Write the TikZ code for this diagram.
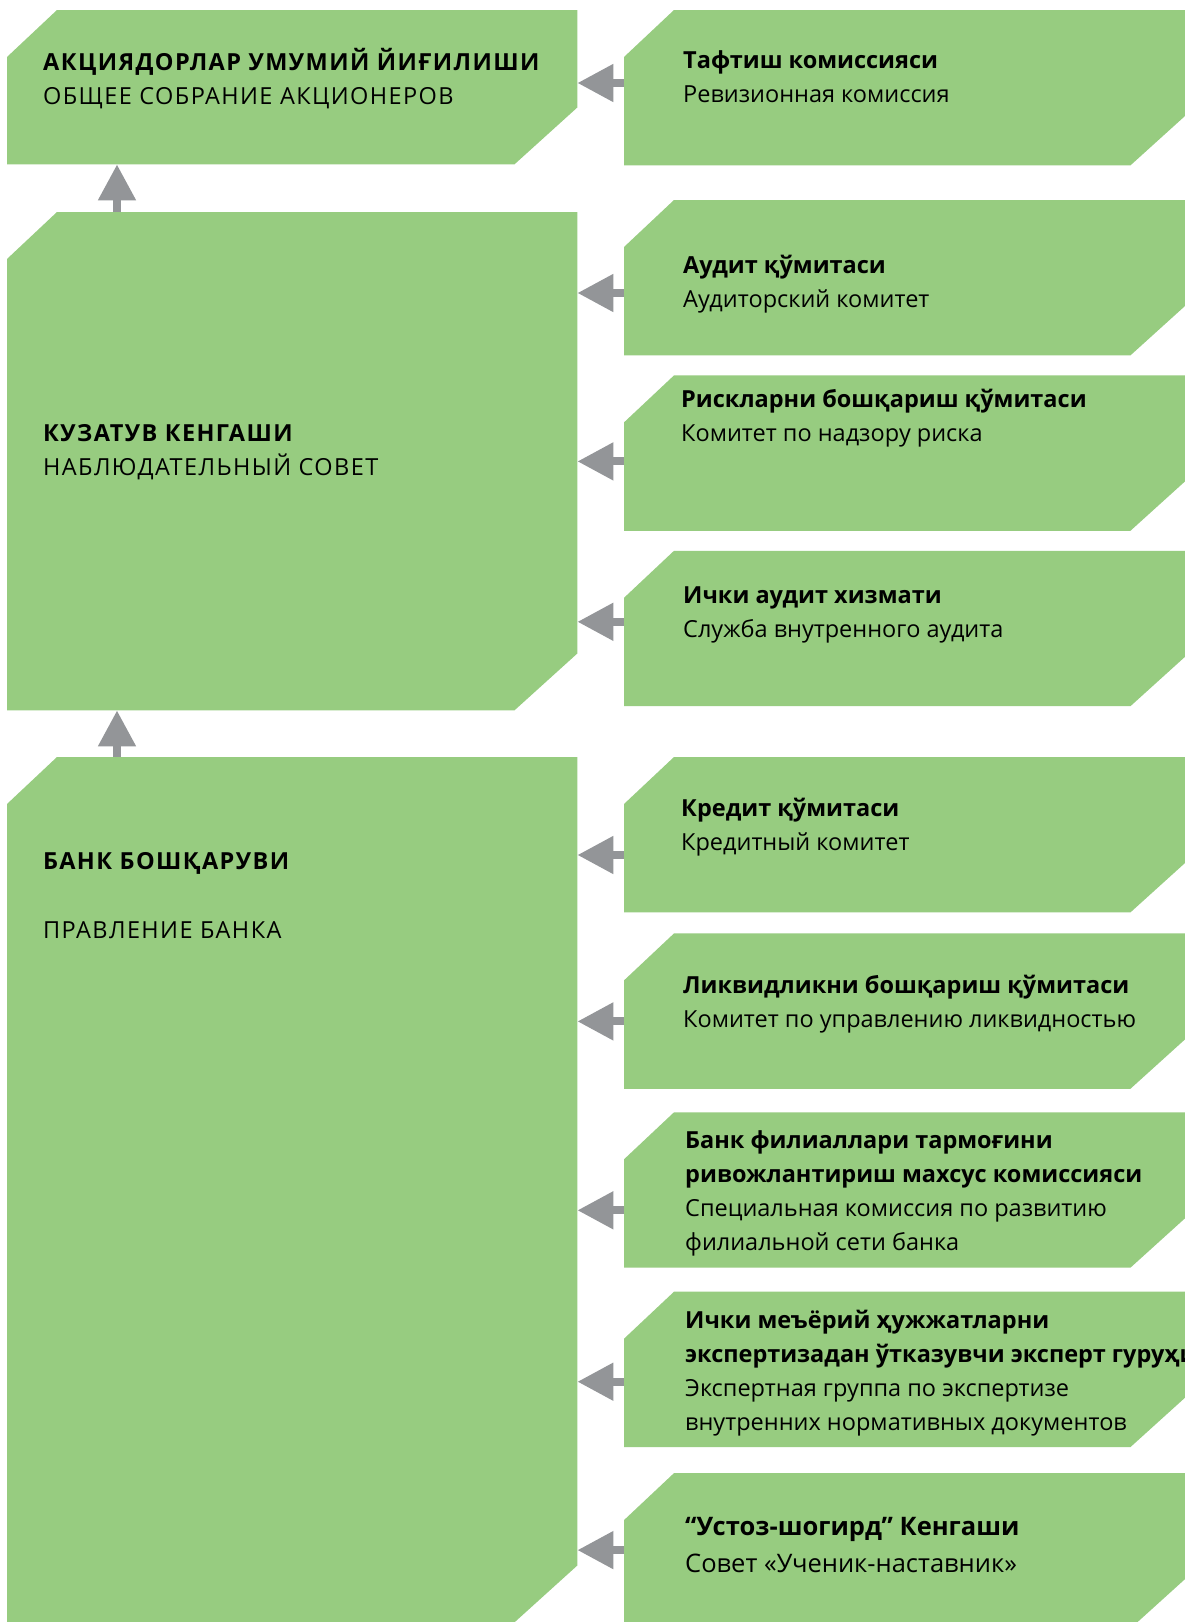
\documentclass[tikz,border=0pt]{standalone}
\usepackage{fontspec}
\setmainfont{Open Sans}
\usetikzlibrary{positioning,arrows.meta,calc,backgrounds}
\definecolor{boxgreen}{HTML}{97CC80}
\definecolor{arrowgrey}{HTML}{939598}
\tikzset{
    leftbox/.style={
        inner sep=0pt, anchor=north west,
        minimum width=570pt
    },
    rightbox/.style={
        inner sep=0pt, anchor=north west,
        minimum width=569pt, minimum height=155pt
    },
    boxtext/.style={
        inner sep=0pt, anchor=north west, align=left,
        font=\fontsize{23.5}{34}\selectfont
    },
    capstext/.style={
        boxtext, font=\fontsize{23.5}{34}\selectfont\addfontfeature{LetterSpace=6}
    },
    arrow/.style={-{Triangle[length=36pt, width=36pt]}, line width=8pt, color=arrowgrey},
}

\begin{document}
\begin{tikzpicture}[x=1pt, y=-1pt, node distance=20pt]
    \useasboundingbox (0,0) rectangle (1185,1622);
    % left column
    \node[leftbox, minimum height=154pt] (meeting) at (7,10) {};
    \node[leftbox, minimum height=498pt] (board) at (7,212) {};
    \node[leftbox, minimum height=865pt] (management) at (7,757) {};
    % right column
    \node[rightbox] (revision) at (624,10) {};
    \node[rightbox] (audit) at (624,200) {};
    \node[rightbox, below=of audit] (risk) {};
    \node[rightbox, below=of risk] (intaudit) {};
    \node[rightbox] (credit) at (624,757) {};
    \node[rightbox, below=21pt of credit] (liquidity) {};
    \node[rightbox, below=23.5pt of liquidity] (branches) {};
    \node[rightbox, below=24pt of branches] (expert) {};
    \node[rightbox, below=26pt of expert] (mentor) {};

    % texts
    \node[capstext] (meeting-txt) at ([shift={(36,38)}]meeting.north west)
        {\textbf{АКЦИЯДОРЛАР УМУМИЙ ЙИҒИЛИШИ}\\ОБЩЕЕ СОБРАНИЕ АКЦИОНЕРОВ};
    \node[capstext] (board-txt) at ([shift={(36,212)}]board.north west)
        {\textbf{КУЗАТУВ КЕНГАШИ}\\НАБЛЮДАТЕЛЬНЫЙ СОВЕТ};
    \node[capstext] (management-txt) at ([shift={(36,95)}]management.north west)
        {\textbf{БАНК БОШҚАРУВИ}\\[35pt]ПРАВЛЕНИЕ БАНКА};
    \node[boxtext] (revision-txt) at ([shift={(59,40)}]revision.north west)
        {\textbf{Тафтиш комиссияси}\\Ревизионная комиссия};
    \node[boxtext] (audit-txt) at ([shift={(59,55)}]audit.north west)
        {\textbf{Аудит қўмитаси}\\Аудиторский комитет};
    \node[boxtext] (risk-txt) at ([shift={(57,14)}]risk.north west)
        {\textbf{Рискларни бошқариш қўмитаси}\\Комитет по надзору риска};
    \node[boxtext] (intaudit-txt) at ([shift={(59,36)}]intaudit.north west)
        {\textbf{Ички аудит хизмати}\\Служба внутренного аудита};
    \node[boxtext] (credit-txt) at ([shift={(57,41)}]credit.north west)
        {\textbf{Кредит қўмитаси}\\Кредитный комитет};
    \node[boxtext] (liquidity-txt) at ([shift={(59,42)}]liquidity.north west)
        {\textbf{Ликвидликни бошқариш қўмитаси}\\Комитет по управлению ликвидностью};
    \node[boxtext] (branches-txt) at ([shift={(61,18)}]branches.north west)
        {\textbf{Банк филиаллари тармоғини}\\\textbf{ривожлантириш махсус комиссияси}\\Специальная комиссия по развитию\\филиальной сети банка};
    \node[boxtext] (expert-txt) at ([shift={(61,18)}]expert.north west)
        {\textbf{Ички меъёрий ҳужжатларни}\\\textbf{экспертизадан ўтказувчи эксперт гуруҳи}\\Экспертная группа по экспертизе\\внутренних нормативных документов};
    \node[boxtext, font=\fontsize{25.5}{37}\selectfont] (mentor-txt) at ([shift={(61,44)}]mentor.north west)
        {\textbf{“Устоз-шогирд” Кенгаши}\\Совет «Ученик-наставник»};

    % chamfered green boxes
    \begin{scope}[on background layer]
        \fill[white] (0,0) rectangle (1185,1622);
        \clip (0,0) rectangle (1185,1622);
        \foreach \n in {meeting,board,management,revision,audit,risk,intaudit,credit,liquidity,branches,expert,mentor}
            \fill[boxgreen] ([xshift=50pt]\n.north west) -- (\n.north east)
                -- ([yshift=57pt]\n.south east) -- ([xshift=-63pt]\n.south east)
                -- (\n.south west) -- ([yshift=-47pt]\n.north west) -- cycle;
    \end{scope}

    % arrows
    \draw[arrow] ([xshift=110pt]board.north west) -- ([xshift=110pt]meeting.south west);
    \draw[arrow] ([xshift=110pt]management.north west) -- ([xshift=110pt]board.south west);
    \foreach \n/\t/\dy in {revision/meeting/73, audit/board/93, risk/board/86, intaudit/board/71,
                          credit/management/98, liquidity/management/88, branches/management/98,
                          expert/management/90, mentor/management/77}
        \draw[arrow] ([yshift=-\dy pt]\n.north west) coordinate (s) -- (s -| \t.east);
\end{tikzpicture}
\end{document}
